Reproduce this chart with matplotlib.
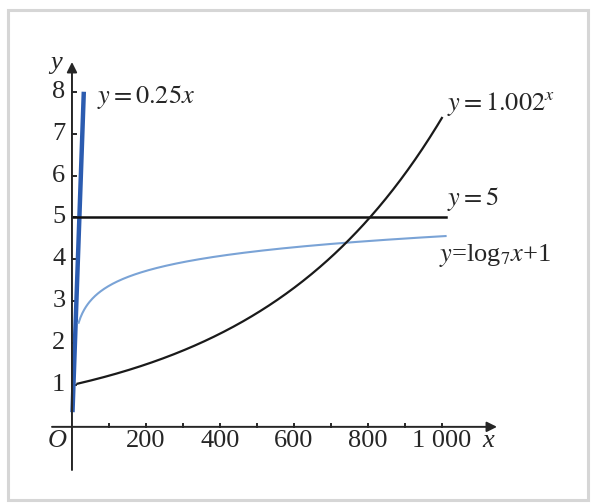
import numpy as np
import matplotlib
matplotlib.use("Agg")
import matplotlib.pyplot as plt
from matplotlib.patches import Rectangle

plt.rcParams['font.family'] = ['Liberation Serif', 'DejaVu Serif']
plt.rcParams['mathtext.fontset'] = 'stix'

# functions shown on the chart (the labels give the formulas)
lin_k = 0.25          # y = 0.25x
exp_base = 1.002      # y = 1.002^x
log_base = 7          # y = log_7 x + 1
const_y = 5           # y = 5

lin_x = np.linspace(1.4, 32, 50)
exp_x = np.linspace(15, 1000, 300)
log_x = np.linspace(18, 1010, 400)
const_x = [0, 1010]

xtick_pos = [200, 400, 600, 800, 1000]
xtick_lab = ["200", "400", "600", "800", "1 000"]
xminor = list(range(100, 1001, 100))
ytick_pos = [1, 2, 3, 4, 5, 6, 7, 8]

FS = 19
INK = "#262626"

fig = plt.figure(figsize=(5.92, 5.03), dpi=100)
fig.patches.append(Rectangle((8 / 592, 1 - 500 / 503), 580 / 592, 490 / 503,
                             transform=fig.transFigure, fill=False,
                             edgecolor="#d6d6d6", linewidth=2.2))

ax = fig.add_axes([52 / 592, 1 - 470 / 503, 445 / 592, 408 / 503])
ax.set_xlim(-54, 1149)
ax.set_ylim(-1.03, 8.71)
ax.axis('off')

# axes with arrows
ax.annotate("", xy=(1149, 0), xytext=(-54, 0),
            arrowprops=dict(arrowstyle="-|>", color=INK, lw=1.4,
                            mutation_scale=15, shrinkA=0, shrinkB=0))
ax.annotate("", xy=(0, 8.71), xytext=(0, -1.03),
            arrowprops=dict(arrowstyle="-|>", color=INK, lw=1.4,
                            mutation_scale=15, shrinkA=0, shrinkB=0))

# ticks
for t in xminor:
    ax.plot([t, t], [0, 0.07], color=INK, lw=1.4)
for t in ytick_pos:
    ax.plot([0, 12], [t, t], color=INK, lw=1.4)
    ax.text(-18, t, str(t), ha="right", va="center", fontsize=FS, color=INK)
for t, lab in zip(xtick_pos, xtick_lab):
    ax.text(t, -0.34, lab, ha="center", va="center", fontsize=FS, color=INK)
ax.text(-40, -0.34, "O", ha="center", va="center", fontsize=FS, style="italic", color=INK)
ax.text(1125, -0.34, "x", ha="center", va="center", fontsize=FS, style="italic", color=INK)
ax.text(-44, 8.68, "y", ha="center", va="center", fontsize=FS, style="italic", color=INK)

# curves
ax.plot(lin_x, lin_k * lin_x, color="#2c5cb0", lw=3.2, solid_capstyle="butt")
ax.plot(const_x, [const_y, const_y], color="#111111", lw=1.8)
ax.plot(log_x, np.log(log_x) / np.log(log_base) + 1, color="#7aa3d6", lw=1.5)
ax.plot(exp_x, exp_base ** exp_x, color="#1a1a1a", lw=1.6)

# labels
ax.text(68, 7.88, r"$y=0.25x$", ha="left", va="center", fontsize=FS, color=INK)
ax.text(1013, 7.7, r"$y=1.002^{x}$", ha="left", va="center", fontsize=FS, color=INK)
ax.text(1013, 5.45, r"$y=5$", ha="left", va="center", fontsize=FS, color=INK)
ax.text(993, 4.08, r"$y$=log$_7$$x$+1", ha="left", va="center", fontsize=FS, color=INK)

fig.savefig("out.png", dpi=100)
